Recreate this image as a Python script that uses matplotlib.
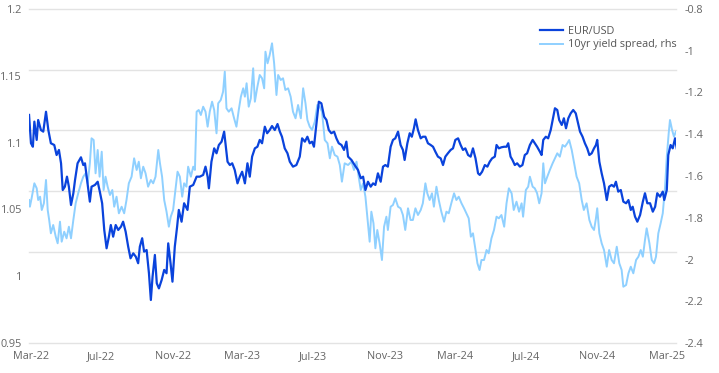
import matplotlib
matplotlib.use("Agg")
import matplotlib.pyplot as plt
import matplotlib.dates as mdates
from matplotlib.ticker import FuncFormatter, MultipleLocator
import pandas as pd

plt.rcParams["font.family"] = ["Open Sans", "DejaVu Sans"]

# time stamps as decimal years
eur_t = [
    2022.154, 2022.163, 2022.172, 2022.179, 2022.190, 2022.197, 2022.210, 2022.221, 2022.234, 2022.245,
    2022.257, 2022.273, 2022.284, 2022.295, 2022.305, 2022.313, 2022.323, 2022.333, 2022.342, 2022.352,
    2022.363, 2022.371, 2022.383, 2022.399, 2022.410, 2022.418, 2022.426, 2022.441, 2022.449, 2022.465,
    2022.478, 2022.488, 2022.499, 2022.509, 2022.520, 2022.531, 2022.540, 2022.551, 2022.563, 2022.575,
    2022.588, 2022.598, 2022.610, 2022.622, 2022.633, 2022.646, 2022.658, 2022.669, 2022.677, 2022.688,
    2022.697, 2022.709, 2022.720, 2022.729, 2022.737, 2022.748, 2022.757, 2022.767, 2022.780, 2022.792,
    2022.803, 2022.811, 2022.822, 2022.831, 2022.842, 2022.853, 2022.861, 2022.874, 2022.886, 2022.902,
    2022.913, 2022.929, 2022.945, 2022.960, 2022.976, 2022.987, 2022.997, 2023.003, 2023.015, 2023.028,
    2023.039, 2023.050, 2023.063, 2023.075, 2023.083, 2023.091, 2023.102, 2023.113, 2023.125, 2023.138,
    2023.149, 2023.160, 2023.173, 2023.185, 2023.196, 2023.207, 2023.220, 2023.232, 2023.243, 2023.254,
    2023.267, 2023.278, 2023.290, 2023.301, 2023.314, 2023.327, 2023.338, 2023.348, 2023.361, 2023.374,
    2023.385, 2023.400, 2023.416, 2023.432, 2023.443, 2023.456, 2023.468, 2023.479, 2023.490, 2023.499,
    2023.511, 2023.522, 2023.534, 2023.547, 2023.558, 2023.569, 2023.581, 2023.594, 2023.605, 2023.616,
    2023.629, 2023.641, 2023.652, 2023.660, 2023.676, 2023.691, 2023.707, 2023.720, 2023.731, 2023.742,
    2023.754, 2023.767, 2023.778, 2023.789, 2023.801, 2023.814, 2023.825, 2023.836, 2023.848, 2023.861,
    2023.872, 2023.883, 2023.896, 2023.908, 2023.919, 2023.927, 2023.940, 2023.951, 2023.961, 2023.971,
    2023.979, 2023.990, 2024.003, 2024.013, 2024.025, 2024.037, 2024.050, 2024.061, 2024.072, 2024.084,
    2024.097, 2024.108, 2024.119, 2024.131, 2024.144, 2024.155, 2024.166, 2024.179, 2024.191, 2024.202,
    2024.213, 2024.226, 2024.238, 2024.249, 2024.261, 2024.273, 2024.281, 2024.292, 2024.305, 2024.317,
    2024.328, 2024.339, 2024.352, 2024.360, 2024.371, 2024.383, 2024.396, 2024.407, 2024.415, 2024.426,
    2024.435, 2024.446, 2024.457, 2024.470, 2024.482, 2024.493, 2024.504, 2024.517, 2024.530, 2024.540,
    2024.551, 2024.564, 2024.572, 2024.580, 2024.592, 2024.603, 2024.615, 2024.624, 2024.635, 2024.646,
    2024.655, 2024.667, 2024.677, 2024.687, 2024.698, 2024.709, 2024.721, 2024.733, 2024.742, 2024.753,
    2024.765, 2024.776, 2024.787, 2024.797, 2024.808, 2024.819, 2024.828, 2024.834, 2024.844, 2024.855,
    2024.866, 2024.879, 2024.890, 2024.902, 2024.913, 2024.922, 2024.933, 2024.945, 2024.957, 2024.970,
    2024.981, 2024.992, 2025.001, 2025.012, 2025.023, 2025.036, 2025.049, 2025.059, 2025.070, 2025.083,
    2025.096, 2025.107, 2025.117, 2025.130, 2025.143, 2025.150, 2025.162, 2025.169, 2025.180, 2025.190,
    2025.201, 2025.209,
]
eur_usd = [
    1.1207, 1.0995, 1.0969, 1.1157, 1.1020, 1.1169, 1.1094, 1.1082, 1.1231, 1.1094,
    1.0995, 1.0982, 1.0907, 1.0945, 1.0845, 1.0645, 1.0670, 1.0745, 1.0670, 1.0533,
    1.0620, 1.0720, 1.0845, 1.0890, 1.0832, 1.0845, 1.0745, 1.0558, 1.0670, 1.0683,
    1.0707, 1.0633, 1.0546, 1.0346, 1.0209, 1.0296, 1.0383, 1.0296, 1.0383, 1.0346,
    1.0371, 1.0408, 1.0333, 1.0221, 1.0134, 1.0171, 1.0146, 1.0097, 1.0221, 1.0284,
    1.0184, 1.0196, 1.0022, 0.9822, 0.9996, 1.0159, 0.9947, 0.9909, 0.9972, 1.0047,
    1.0022, 1.0246, 1.0097, 0.9959, 1.0221, 1.0371, 1.0496, 1.0408, 1.0546, 1.0496,
    1.0670, 1.0683, 1.0745, 1.0745, 1.0758, 1.0820, 1.0745, 1.0658, 1.0857, 1.0957,
    1.0920, 1.0982, 1.1007, 1.1082, 1.0969, 1.0857, 1.0832, 1.0845, 1.0795, 1.0695,
    1.0745, 1.0782, 1.0695, 1.0845, 1.0745, 1.0895, 1.0957, 1.0969, 1.1020, 1.0995,
    1.1119, 1.1070, 1.1094, 1.1124, 1.1094, 1.1139, 1.1082, 1.1044, 1.0957, 1.0920,
    1.0857, 1.0820, 1.0832, 1.0895, 1.1032, 1.1007, 1.1044, 1.0995, 1.1007, 1.0969,
    1.1145, 1.1306, 1.1294, 1.1194, 1.1169, 1.1094, 1.1070, 1.1082, 1.1032, 1.0995,
    1.0982, 1.0945, 1.1007, 1.0895, 1.0870, 1.0832, 1.0795, 1.0733, 1.0745, 1.0645,
    1.0707, 1.0670, 1.0695, 1.0683, 1.0770, 1.0707, 1.0820, 1.0832, 1.0820, 1.0969,
    1.1020, 1.1032, 1.1082, 1.0982, 1.0945, 1.0870, 1.0995, 1.1070, 1.1044, 1.1107,
    1.1174, 1.1094, 1.1032, 1.1044, 1.1044, 1.0995, 1.0982, 1.0969, 1.0932, 1.0895,
    1.0882, 1.0832, 1.0895, 1.0920, 1.0945, 1.0957, 1.1020, 1.1032, 1.0982, 1.0945,
    1.0957, 1.0907, 1.0895, 1.0957, 1.0882, 1.0770, 1.0758, 1.0782, 1.0832, 1.0820,
    1.0857, 1.0882, 1.0895, 1.0982, 1.0957, 1.0965, 1.0969, 1.0969, 1.0995, 1.0895,
    1.0870, 1.0832, 1.0845, 1.0820, 1.0832, 1.0907, 1.0920, 1.0982, 1.1020, 1.0995,
    1.0969, 1.0932, 1.0907, 1.1020, 1.1044, 1.1032, 1.1094, 1.1169, 1.1257, 1.1244,
    1.1169, 1.1132, 1.1182, 1.1107, 1.1182, 1.1219, 1.1244, 1.1219, 1.1157, 1.1082,
    1.1044, 1.0995, 1.0957, 1.0907, 1.0920, 1.0957, 1.0982, 1.1020, 1.0857, 1.0770,
    1.0695, 1.0570, 1.0670, 1.0683, 1.0670, 1.0707, 1.0633, 1.0645, 1.0558, 1.0546,
    1.0570, 1.0496, 1.0520, 1.0446, 1.0408, 1.0458, 1.0558, 1.0621, 1.0546, 1.0546,
    1.0483, 1.0520, 1.0621, 1.0595, 1.0633, 1.0570, 1.0645, 1.0907, 1.0982, 1.0957,
    1.1032, 1.0957,
]

spread_t = [
    2022.154, 2022.158, 2022.166, 2022.179, 2022.190, 2022.197, 2022.206, 2022.214, 2022.224, 2022.234,
    2022.242, 2022.249, 2022.257, 2022.268, 2022.280, 2022.289, 2022.300, 2022.308, 2022.320, 2022.331,
    2022.342, 2022.352, 2022.363, 2022.374, 2022.386, 2022.399, 2022.410, 2022.421, 2022.431, 2022.441,
    2022.449, 2022.459, 2022.468, 2022.478, 2022.487, 2022.497, 2022.506, 2022.515, 2022.525, 2022.536,
    2022.547, 2022.556, 2022.567, 2022.578, 2022.591, 2022.603, 2022.614, 2022.625, 2022.638, 2022.650,
    2022.662, 2022.672, 2022.682, 2022.693, 2022.704, 2022.716, 2022.729, 2022.740, 2022.751, 2022.764,
    2022.772, 2022.782, 2022.792, 2022.803, 2022.814, 2022.823, 2022.834, 2022.845, 2022.855, 2022.866,
    2022.877, 2022.886, 2022.897, 2022.905, 2022.918, 2022.929, 2022.937, 2022.945, 2022.955, 2022.965,
    2022.976, 2022.987, 2022.997, 2023.007, 2023.018, 2023.028, 2023.039, 2023.047, 2023.059, 2023.070,
    2023.078, 2023.086, 2023.097, 2023.110, 2023.122, 2023.133, 2023.144, 2023.154, 2023.165, 2023.173,
    2023.181, 2023.191, 2023.201, 2023.212, 2023.220, 2023.232, 2023.243, 2023.254, 2023.264, 2023.270,
    2023.280, 2023.290, 2023.301, 2023.311, 2023.322, 2023.330, 2023.342, 2023.353, 2023.364, 2023.377,
    2023.389, 2023.400, 2023.412, 2023.424, 2023.437, 2023.448, 2023.459, 2023.468, 2023.479, 2023.490,
    2023.503, 2023.515, 2023.526, 2023.537, 2023.550, 2023.563, 2023.574, 2023.584, 2023.597, 2023.610,
    2023.621, 2023.631, 2023.644, 2023.660, 2023.676, 2023.688, 2023.700, 2023.710, 2023.720, 2023.731,
    2023.742, 2023.751, 2023.762, 2023.770, 2023.780, 2023.789, 2023.798, 2023.809, 2023.820, 2023.830,
    2023.841, 2023.848, 2023.861, 2023.872, 2023.883, 2023.896, 2023.908, 2023.919, 2023.930, 2023.943,
    2023.955, 2023.966, 2023.978, 2023.990, 2024.003, 2024.013, 2024.025, 2024.034, 2024.045, 2024.056,
    2024.065, 2024.077, 2024.088, 2024.100, 2024.113, 2024.124, 2024.135, 2024.147, 2024.160, 2024.171,
    2024.182, 2024.195, 2024.207, 2024.218, 2024.229, 2024.239, 2024.249, 2024.261, 2024.270, 2024.280,
    2024.289, 2024.301, 2024.313, 2024.323, 2024.336, 2024.348, 2024.360, 2024.371, 2024.383, 2024.396,
    2024.407, 2024.418, 2024.431, 2024.441, 2024.454, 2024.466, 2024.478, 2024.485, 2024.498, 2024.509,
    2024.517, 2024.530, 2024.540, 2024.551, 2024.561, 2024.572, 2024.580, 2024.588, 2024.599, 2024.611,
    2024.624, 2024.635, 2024.646, 2024.658, 2024.671, 2024.682, 2024.693, 2024.702, 2024.714, 2024.724,
    2024.737, 2024.749, 2024.761, 2024.771, 2024.784, 2024.797, 2024.808, 2024.819, 2024.828, 2024.834,
    2024.844, 2024.855, 2024.866, 2024.879, 2024.890, 2024.902, 2024.913, 2024.926, 2024.938, 2024.949,
    2024.957, 2024.970, 2024.981, 2024.992, 2025.004, 2025.017, 2025.028, 2025.039, 2025.049, 2025.059,
    2025.067, 2025.080, 2025.091, 2025.102, 2025.111, 2025.122, 2025.133, 2025.143, 2025.154, 2025.162,
    2025.171, 2025.177, 2025.187, 2025.196, 2025.205,
]
spread = [
    -1.7150, -1.7471, -1.7068, -1.6350, -1.6589, -1.7150, -1.6992, -1.7629, -1.7308, -1.6191,
    -1.7629, -1.8108, -1.8745, -1.8347, -1.8907, -1.9223, -1.8189, -1.9147, -1.8668, -1.8985,
    -1.8429, -1.8985, -1.8108, -1.7308, -1.6829, -1.6350, -1.6033, -1.5871, -1.6350, -1.5392,
    -1.4194, -1.4275, -1.5871, -1.4755, -1.6033, -1.4836, -1.6671, -1.6033, -1.6512, -1.6910,
    -1.6671, -1.7471, -1.6992, -1.7787, -1.7471, -1.7787, -1.7150, -1.6350, -1.6033, -1.5152,
    -1.5712, -1.5315, -1.6110, -1.5554, -1.5871, -1.6512, -1.6191, -1.6350, -1.6033, -1.4755,
    -1.5392, -1.6033, -1.7150, -1.7710, -1.8429, -1.7948, -1.7629, -1.6671, -1.5794, -1.6033,
    -1.6992, -1.6350, -1.6512, -1.5554, -1.6033, -1.5554, -1.5712, -1.2920, -1.2838, -1.3078,
    -1.2680, -1.2920, -1.3638, -1.2920, -1.2441, -1.2838, -1.3955, -1.2517, -1.2359, -1.1962,
    -1.1003, -1.2757, -1.2920, -1.2757, -1.3236, -1.3638, -1.2838, -1.2201, -1.1799, -1.2201,
    -1.1559, -1.2680, -1.2278, -1.0841, -1.2441, -1.1722, -1.1162, -1.1320, -1.1799, -1.0046,
    -1.0601, -1.0204, -0.9643, -1.0601, -1.2120, -1.1162, -1.1401, -1.1320, -1.1880, -1.1799,
    -1.2201, -1.2920, -1.3236, -1.2599, -1.3236, -1.1799, -1.2517, -1.3317, -1.3638, -1.3796,
    -1.3399, -1.2599, -1.2680, -1.2920, -1.4275, -1.4434, -1.5152, -1.4596, -1.4994, -1.5075,
    -1.5473, -1.6273, -1.5392, -1.5473, -1.5315, -1.5712, -1.5315, -1.6033, -1.6671, -1.6350,
    -1.6992, -1.7949, -1.9147, -1.7710, -1.8265, -1.9463, -1.8586, -1.9223, -2.0024, -1.8429,
    -1.7949, -1.8586, -1.7471, -1.7389, -1.7068, -1.7471, -1.7547, -1.7868, -1.8586, -1.7547,
    -1.8108, -1.8108, -1.7547, -1.7868, -1.7629, -1.7308, -1.6350, -1.6829, -1.7150, -1.6829,
    -1.7471, -1.6512, -1.7150, -1.7710, -1.8189, -1.7710, -1.7787, -1.7308, -1.6829, -1.7150,
    -1.6992, -1.7308, -1.7547, -1.7787, -1.8027, -1.8907, -1.8745, -1.9545, -2.0182, -2.0503,
    -2.0024, -2.0024, -1.9545, -1.9703, -1.8985, -1.8586, -1.7949, -1.8027, -1.7868, -1.8429,
    -1.7308, -1.6589, -1.6829, -1.7629, -1.7231, -1.7710, -1.7308, -1.7949, -1.6671, -1.6512,
    -1.6033, -1.6512, -1.6589, -1.6829, -1.7308, -1.6829, -1.5392, -1.6350, -1.6033, -1.5712,
    -1.5392, -1.5152, -1.4913, -1.5075, -1.4515, -1.4596, -1.4434, -1.4275, -1.4755, -1.5315,
    -1.6033, -1.6350, -1.7150, -1.7629, -1.7308, -1.8108, -1.8429, -1.8586, -1.8027, -1.7547,
    -1.8745, -1.9223, -1.9545, -2.0345, -1.9545, -2.0024, -2.0182, -1.9387, -2.0182, -2.0503,
    -2.1303, -2.1222, -2.0661, -2.0345, -2.0661, -2.0024, -1.9866, -1.9545, -1.9866, -1.9066,
    -1.8505, -1.9223, -2.0024, -2.0182, -1.9866, -1.8745, -1.8265, -1.7787, -1.6512, -1.5075,
    -1.3955, -1.3317, -1.3796, -1.4117, -1.3877,
]

left_ticks = [0.95, 1.0, 1.05, 1.1, 1.15, 1.2]
labels = ["EUR/USD", "10yr yield spread, rhs"]


def to_dates(ts):
    out = []
    for t in ts:
        year = int(t)
        start = pd.Timestamp(year, 1, 1)
        ndays = (pd.Timestamp(year + 1, 1, 1) - start).days
        out.append(start + pd.Timedelta(days=(t - year) * ndays))
    return out


DARK = "#0a43dc"
LIGHT = "#8fd0ff"
GREY = "#666666"

fig = plt.figure(figsize=(7.19, 3.73), dpi=100)
ax = fig.add_axes([0.0403, 0.0804, 0.8999, 0.8955])
ax2 = ax.twinx()

# gridlines sit behind both series, on the rhs axes
for f in [0, 3 / 11, 5 / 11, 7 / 11, 9 / 11, 1]:
    ax2.plot([0, 1], [f, f], transform=ax2.transAxes, color="#e3e3e3",
             lw=1.0, zorder=0, clip_on=False)

ax2.plot(to_dates(spread_t), spread, color=LIGHT, lw=1.4, label=labels[1])
ax.plot(to_dates(eur_t), eur_usd, color=DARK, lw=1.6, label=labels[0])

ax.set_zorder(ax2.get_zorder() + 1)
ax.patch.set_visible(False)

ax.set_xlim(to_dates([2022.1536, 2025.2055]))
ax.set_ylim(0.95, 1.2)
ax2.set_ylim(-2.4, -0.8)

ax.set_yticks(left_ticks)
fmt = FuncFormatter(lambda v, _: f"{v:g}")
ax.yaxis.set_major_formatter(fmt)
ax2.yaxis.set_major_locator(MultipleLocator(0.2))
ax2.yaxis.set_major_formatter(FuncFormatter(lambda v, _: f"{round(v, 1):g}"))

ax.xaxis.set_major_locator(mdates.MonthLocator(bymonth=[3, 7, 11]))
ax.xaxis.set_major_formatter(mdates.DateFormatter("%b-%y"))

for a in (ax, ax2):
    for s in a.spines.values():
        s.set_visible(False)
ax.tick_params(axis="x", length=0, pad=6, labelsize=7.8, labelcolor=GREY)
ax.tick_params(axis="y", length=0, pad=5, labelsize=7.8, labelcolor=GREY)
ax2.tick_params(axis="y", length=0, pad=6, labelsize=7.8, labelcolor=GREY)

h1, l1 = ax.get_legend_handles_labels()
h2, l2 = ax2.get_legend_handles_labels()
ax.legend(h1 + h2, l1 + l2, loc="upper left", bbox_to_anchor=(0.79, 0.95),
          frameon=False, fontsize=7.8, labelcolor="#555555", borderpad=0,
          borderaxespad=0, handlelength=2.1, handletextpad=0.45, labelspacing=0.25)

fig.savefig("out.png", dpi=100)
